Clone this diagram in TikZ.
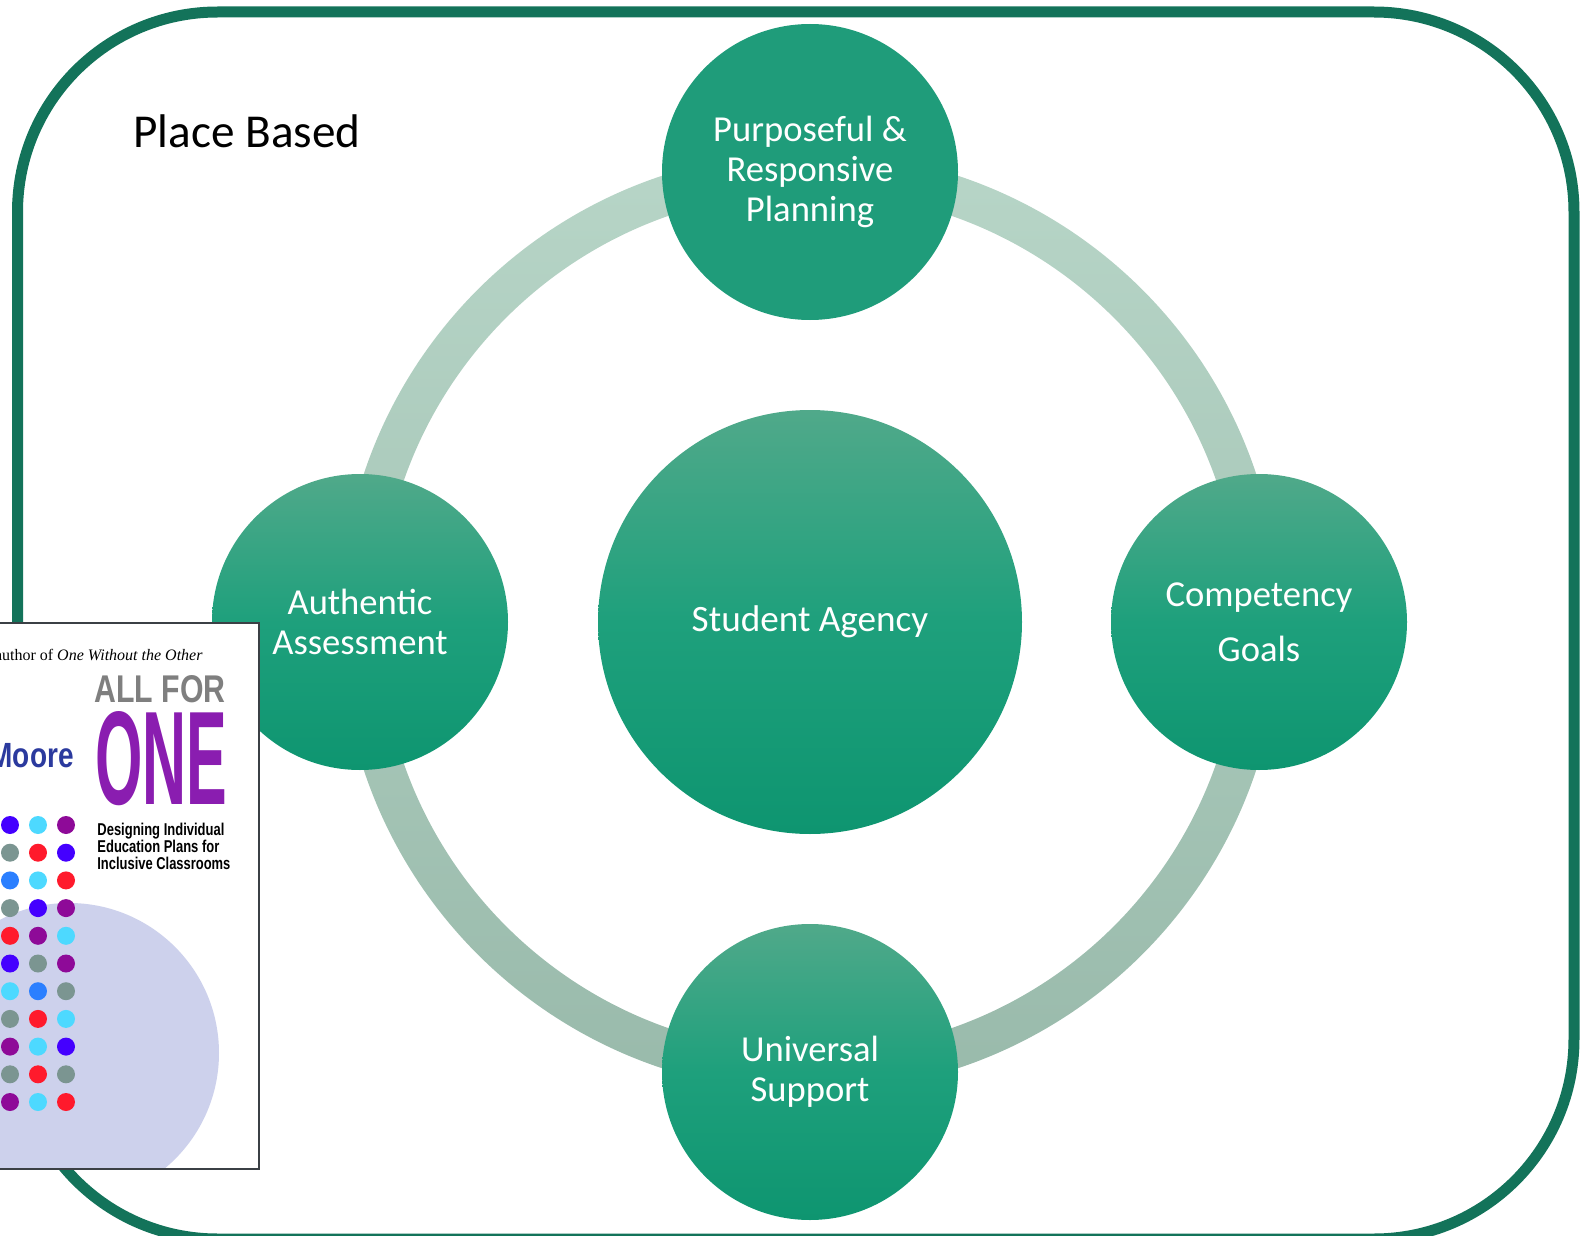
\documentclass[tikz,border=0pt]{standalone}
\usepackage{fontspec}
\usepackage{graphicx}
\setmainfont{Carlito}
\newfontfamily\booksans{Liberation Sans}
\newfontfamily\bookserif{Liberation Serif}
\definecolor{frame}{HTML}{13735A}
\definecolor{ringtop}{HTML}{B7D5C7}
\definecolor{ringbot}{HTML}{99BAAB}
\definecolor{disctop}{HTML}{50A98A}
\definecolor{discmid}{HTML}{1EA07C}
\definecolor{discbot}{HTML}{0E9570}
\definecolor{planfill}{HTML}{1F9C7A}
\definecolor{bookedge}{HTML}{3B4045}
\definecolor{lavender}{HTML}{CDD1EC}
\definecolor{allgray}{HTML}{7F7F7F}
\definecolor{onepurple}{HTML}{8A1DB0}
\definecolor{moreblue}{HTML}{2B3A9E}
\definecolor{dblue}{HTML}{4400FF}
\definecolor{dcyan}{HTML}{4DD9FF}
\definecolor{dpurple}{HTML}{8E0A98}
\definecolor{dgray}{HTML}{7B9591}
\definecolor{dred}{HTML}{FF1A2C}
\definecolor{dazure}{HTML}{2B7FFF}
\begin{document}
\begin{tikzpicture}[x=0.5pt,y=-0.5pt,
    disc/.style={circle, minimum size=148pt, inner sep=0pt, align=center, text=white, font=\fontsize{18.3}{20}\selectfont},
    glow/.style={disc, top color=disctop, bottom color=discbot, middle color=discmid},
    bead/.style={radius=4.5pt}]
    \useasboundingbox (0,0) rectangle (1587,1236);
    % outer frame
    \draw[frame, line width=5.5pt, rounded corners=100pt] (17.5,12) rectangle (1574,1239);
    \node[anchor=base west, inner sep=0pt, font=\fontsize{23.6}{28}\selectfont] (place) at (133,148) {Place Based};
    % ring
    \coordinate (hub) at (810,622);
    \shade[top color=ringtop, bottom color=ringbot, even odd rule] (hub) circle[radius=235pt] (hub) circle[radius=215pt];
    \node[glow, minimum size=212pt, font=\fontsize{18.6}{20}\selectfont] (agency) at (hub) {Student Agency};
    \node[disc, fill=planfill] (planning) at (810,172) {Purposeful \&\\Responsive\\Planning};
    \node[glow, font=\fontsize{18.3}{27.5}\selectfont] (competency) at (1259,622) {Competency\\Goals};
    \node[glow] (support) at (810,1072) {Universal\\Support};
    \node[glow] (assessment) at (360,622) {Authentic\\Assessment};
    % book cover
    \fill[white] (-20,623) rectangle (259,1169);
    \begin{scope}
        \clip (-20,623) rectangle (259,1169);
        \fill[lavender] (69,1053) circle[radius=75pt];
        \foreach \a/\b/\c [count=\r from 0] in {dblue/dcyan/dpurple, dgray/dred/dblue, dazure/dcyan/dred,
            dgray/dblue/dpurple, dred/dpurple/dcyan, dblue/dgray/dpurple, dcyan/dazure/dgray,
            dgray/dred/dcyan, dpurple/dcyan/dblue, dgray/dred/dgray, dpurple/dcyan/dred} {
            \fill[\a] (10,{825+27.7*\r}) circle[bead];
            \fill[\b] (38,{825+27.7*\r}) circle[bead];
            \fill[\c] (66,{825+27.7*\r}) circle[bead];
        }
        \node[anchor=base east, inner sep=0pt, font=\bookserif\fontsize{8}{9}\selectfont] (coauthor) at (203,660) {author of \textit{One Without the Other}};
        \node[anchor=base west, inner sep=0pt, text=allgray] (allfor) at (94,702) {\resizebox{65.5pt}{13.5pt}{\booksans\bfseries ALL FOR}};
        \node[anchor=base west, inner sep=0pt, text=onepurple] (one) at (95,804) {\resizebox{66pt}{46.5pt}{\booksans\bfseries ONE}};
        \node[anchor=base east, inner sep=0pt, text=moreblue] (author) at (74,767) {\scalebox{0.8}[1]{\booksans\bfseries\fontsize{17.5}{20}\selectfont Moore}};
        \node[anchor=base west, inner sep=0pt] (sub1) at (97,835) {\resizebox{63.5pt}{6.2pt}{\booksans\bfseries Designing Individual}};
        \node[anchor=base west, inner sep=0pt] (sub2) at (97,852) {\resizebox{61pt}{6.2pt}{\booksans\bfseries Education Plans for}};
        \node[anchor=base west, inner sep=0pt] (sub3) at (97,869) {\resizebox{66.5pt}{6.2pt}{\booksans\bfseries Inclusive Classrooms}};
    \end{scope}
    \draw[bookedge, line width=0.75pt] (-20,623) rectangle (259,1169);
\end{tikzpicture}
\end{document}
